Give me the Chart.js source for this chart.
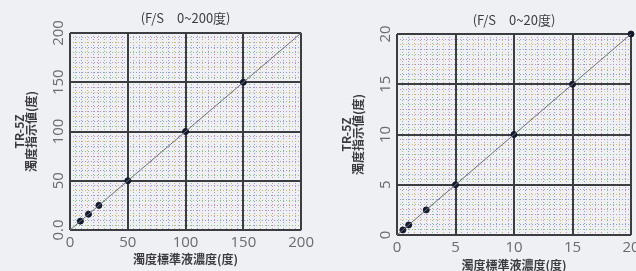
<!DOCTYPE html>
<html lang="ja">
<head>
<meta charset="UTF-8">
<title>TR-5Z 直線性</title>
<script src="https://cdn.jsdelivr.net/npm/chart.js"></script>
<style>
    html, body {
        margin: 0;
        padding: 0;
        width: 636px;
        height: 271px;
        overflow: hidden;
        background: #eef0f4;
    }
    .box {
        position: absolute;
        top: 0;
        width: 318px;
        height: 290px;
    }
    #boxL { left: 0; }
    #boxR { left: 327px; }
</style>
</head>
<body>
<div class="box" id="boxL"><canvas id="chartL" width="318" height="290"></canvas></div>
<div class="box" id="boxR"><canvas id="chartR" width="318" height="290"></canvas></div>

<script>
// 左: F/S 0~200度
const titleL = '(F/S　0~200度)';
const stdL = [9, 16, 25, 50, 100, 150];
const readL = [9, 16, 25, 50, 100, 150];
const rangeL = [0, 200];

// 右: F/S 0~20度
const titleR = '(F/S　0~20度)';
const stdR = [0.5, 1, 2.5, 5, 10, 15, 20];
const readR = [0.5, 1, 2.5, 5, 10, 15, 20];
const rangeR = [0, 20];

const xTitle = '濁度標準液濃度(度)';
const yTitle = ['TR-5Z', '濁度指示値(度)'];

const FONT = "'Noto Sans CJK JP', 'Noto Sans', sans-serif";
const TICKFONT = "'Open Sans', 'DejaVu Sans', sans-serif";
const minorColors = ['#c98aa5', '#8cbf8c', '#8d9bd0', '#d2b86c', '#b592c8'];

// 補助目盛り線用の軸 (点線)
function minorAxis(axis, max, pos) {
    return {
        type: 'linear',
        position: pos,
        axis: axis,
        min: 0,
        max: max,
        ticks: { display: false, stepSize: max / 40 },
        grid: {
            drawTicks: false,
            color: c => minorColors[c.index % minorColors.length],
            lineWidth: 1
        },
        border: { display: false, dash: [1, 2] },
        afterFit: s => { if (axis === 'x') s.height = 0; else s.width = 0; }
    };
}

function makeChart(id, title, std, read, range, opt) {
    const max = range[1];
    const major = max / 4;
    const pts = std.map((v, i) => ({ x: v, y: read[i] }));
    return new Chart(document.getElementById(id), {
        type: 'scatter',
        data: {
            datasets: [{
                type: 'line',
                data: [{ x: range[0], y: range[0] }, { x: range[1], y: range[1] }],
                borderColor: '#6d6f74',
                borderWidth: 1,
                pointRadius: 0,
                xAxisID: 'x',
                yAxisID: 'y'
            }, {
                data: pts,
                backgroundColor: '#141a2e',
                borderColor: '#141a2e',
                pointRadius: 3,
                clip: false,
                xAxisID: 'x',
                yAxisID: 'y'
            }]
        },
        options: {
            responsive: false,
            animation: false,
            layout: { padding: { left: 0, right: opt.right, top: 0, bottom: 0 } },
            plugins: {
                legend: { display: false },
                tooltip: { enabled: false },
                title: {
                    display: true,
                    text: title,
                    fullSize: false,
                    color: '#3c3c40',
                    font: { family: FONT, size: 13, weight: 'normal' },
                    padding: opt.titlePad
                }
            },
            scales: {
                x2: minorAxis('x', max, 'bottom'),
                y2: minorAxis('y', max, 'left'),
                x: {
                    type: 'linear',
                    position: 'bottom',
                    min: 0,
                    max: max,
                    ticks: {
                        stepSize: major,
                        color: '#6a6a70',
                        padding: 4,
                        font: { family: TICKFONT, size: 15 }
                    },
                    grid: { drawTicks: false, color: '#3b3d40', lineWidth: 2 },
                    border: { display: false },
                    title: {
                        display: true,
                        text: xTitle,
                        color: '#3c3c40',
                        font: { family: FONT, size: 12, weight: 'bold' },
                        padding: { top: 0, bottom: opt.xTitleBottom }
                    },
                    afterFit: s => { s.height = opt.xh; }
                },
                y: {
                    type: 'linear',
                    position: 'left',
                    min: 0,
                    max: max,
                    ticks: {
                        stepSize: major,
                        minRotation: 90,
                        maxRotation: 90,
                        crossAlign: 'center',
                        color: '#6a6a70',
                        padding: opt.yTickPad,
                        font: { family: TICKFONT, size: 15 },
                        callback: v => (v === 0 && opt.zero) ? opt.zero : v
                    },
                    grid: { drawTicks: false, color: '#3b3d40', lineWidth: 2 },
                    border: { display: false },
                    title: {
                        display: true,
                        text: yTitle,
                        color: '#3c3c40',
                        font: { family: FONT, size: 12, weight: 'bold', lineHeight: 1.05 },
                        padding: { top: 13, bottom: 0 }
                    },
                    afterFit: s => { s.width = 70; }
                }
            }
        }
    });
}

makeChart('chartL', titleL, stdL, readL, rangeL, {
    right: 15,
    titlePad: { top: 10, bottom: 7.4 },
    xh: 290 - 230,
    xTitleBottom: 19 + 4,
    yTickPad: -2,
    zero: '0.0'
});

makeChart('chartR', titleR, stdR, readR, rangeR, {
    right: 14,
    titlePad: { top: 12, bottom: 6.4 },
    xh: 290 - 235,
    xTitleBottom: 19 - 2,
    yTickPad: 3,
    zero: null
});
</script>
</body>
</html>
